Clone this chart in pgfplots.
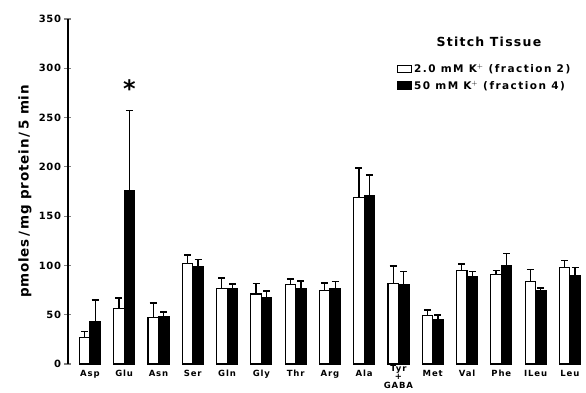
\documentclass[border=0pt]{standalone}
\usepackage{fontspec}
\setmainfont{DejaVu Sans}
\newfontfamily\wf[LetterSpace=10]{DejaVu Sans}
\newfontfamily\wl[LetterSpace=14]{DejaVu Sans}
\newfontfamily\wg[LetterSpace=6]{DejaVu Sans}
\usepackage{pgfplots}
\usepackage{pgfplotstable}
\pgfplotsset{compat=1.18}
\pgfplotstableread{
x y e
0 27 6
1 56 11
2 47 15
3 102 8.5
4 77 10
5 71 10.5
6 80.5 6
7 75 7
8 168.6 30.5
9 82 17.5
10 49 6
11 94.6 6.8
12 91 4
13 84 12
14 97.7 7.3
}\lowK
\pgfplotstableread{
x y e
0 43 22
1 176 81
2 48 5
3 99 7
4 77 4
5 67.6 6.4
6 77 7
7 77 6.5
8 170.7 21.3
9 81 13
10 45.3 4.7
11 88.6 5.4
12 99.7 12.3
13 75 2
14 90 8
}\highK
\begin{document}
\begin{tikzpicture}
\useasboundingbox (-68pt,-29pt) rectangle (518pt,364pt);
\begin{axis}[
  at={(0,0)}, anchor=south west,
  scale only axis, width=519pt, height=345pt,
  xmin=-0.64, xmax=14.5, ymin=0, ymax=350,
  axis y line*=left, axis x line*=bottom,
  x axis line style={draw=none},
  y axis line style={line width=1.1pt},
  clip=false,
  ybar=0pt, bar width=10.5pt,
  xtick={0,1,2,3,4,5,6,7,8,10,11,12,13,14},
  xticklabels={Asp,Glu,Asn,Ser,Gln,Gly,Thr,Arg,Ala,Met,Val,Phe,ILeu,Leu},
  extra x ticks={9},
  extra x tick labels={{Tyr\\+\\GABA}},
  extra x tick style={major tick length=0pt, tick style={draw=none},
    xticklabel style={yshift=1.5pt, align=center, font=\wf\bfseries\fontsize{8.5}{8.7}\selectfont}},
  xticklabel style={align=center, font=\wf\bfseries\fontsize{8.5}{8.7}\selectfont, yshift=1pt},
  major x tick style={draw=none},
  ytick={0,50,...,350},
  tick align=center, major tick length=7pt,
  major y tick style={line width=1.1pt},
  yticklabel style={font=\wg\bfseries\fontsize{10}{10}\selectfont},
  /pgf/number format/assume math mode=true,
  ylabel={pmoles\,/\,mg protein\,/\,5 min},
  ylabel style={at={(axis description cs:-0.083,0.5)}, anchor=center, font=\wg\bfseries\fontsize{13.5}{14}\selectfont},
  legend style={at={(rel axis cs:0.628,0.88)}, anchor=north west, draw=none, fill=none,
    font=\wl\bfseries\fontsize{10.5}{10.5}\selectfont, row sep=2.5pt, legend cell align=left},
  legend image code/.code={\draw[#1, line width=1pt] (0pt,-3.5pt) rectangle (14pt,4pt);},
]
\addplot[draw=black, line width=1.1pt, fill=white,
  error bars/.cd, y dir=plus, y explicit,
  error bar style={line width=1.3pt, solid},
  error mark options={rotate=90, mark size=3.5pt, line width=1.6pt}]
  table[x=x, y=y, y error=e] {\lowK};
\addlegendentry{2.0 mM K$^{\mathbf{+}}$ (fraction 2)}
\addplot[draw=black, line width=1.1pt, fill=black,
  error bars/.cd, y dir=plus, y explicit,
  error bar style={line width=1.3pt, solid},
  error mark options={rotate=90, mark size=3.5pt, line width=1.6pt}]
  table[x=x, y=y, y error=e] {\highK};
\addlegendentry{50 mM K$^{\mathbf{+}}$ (fraction 4)}
\node[font=\wf\bfseries\fontsize{12.5}{12.5}\selectfont] at (rel axis cs:0.811,0.933) {Stitch Tissue};
\node[font=\bfseries\fontsize{24}{24}\selectfont, xshift=5.25pt, yshift=-6pt] at (axis cs:1,285) {*};
\end{axis}
\end{tikzpicture}
\end{document}
